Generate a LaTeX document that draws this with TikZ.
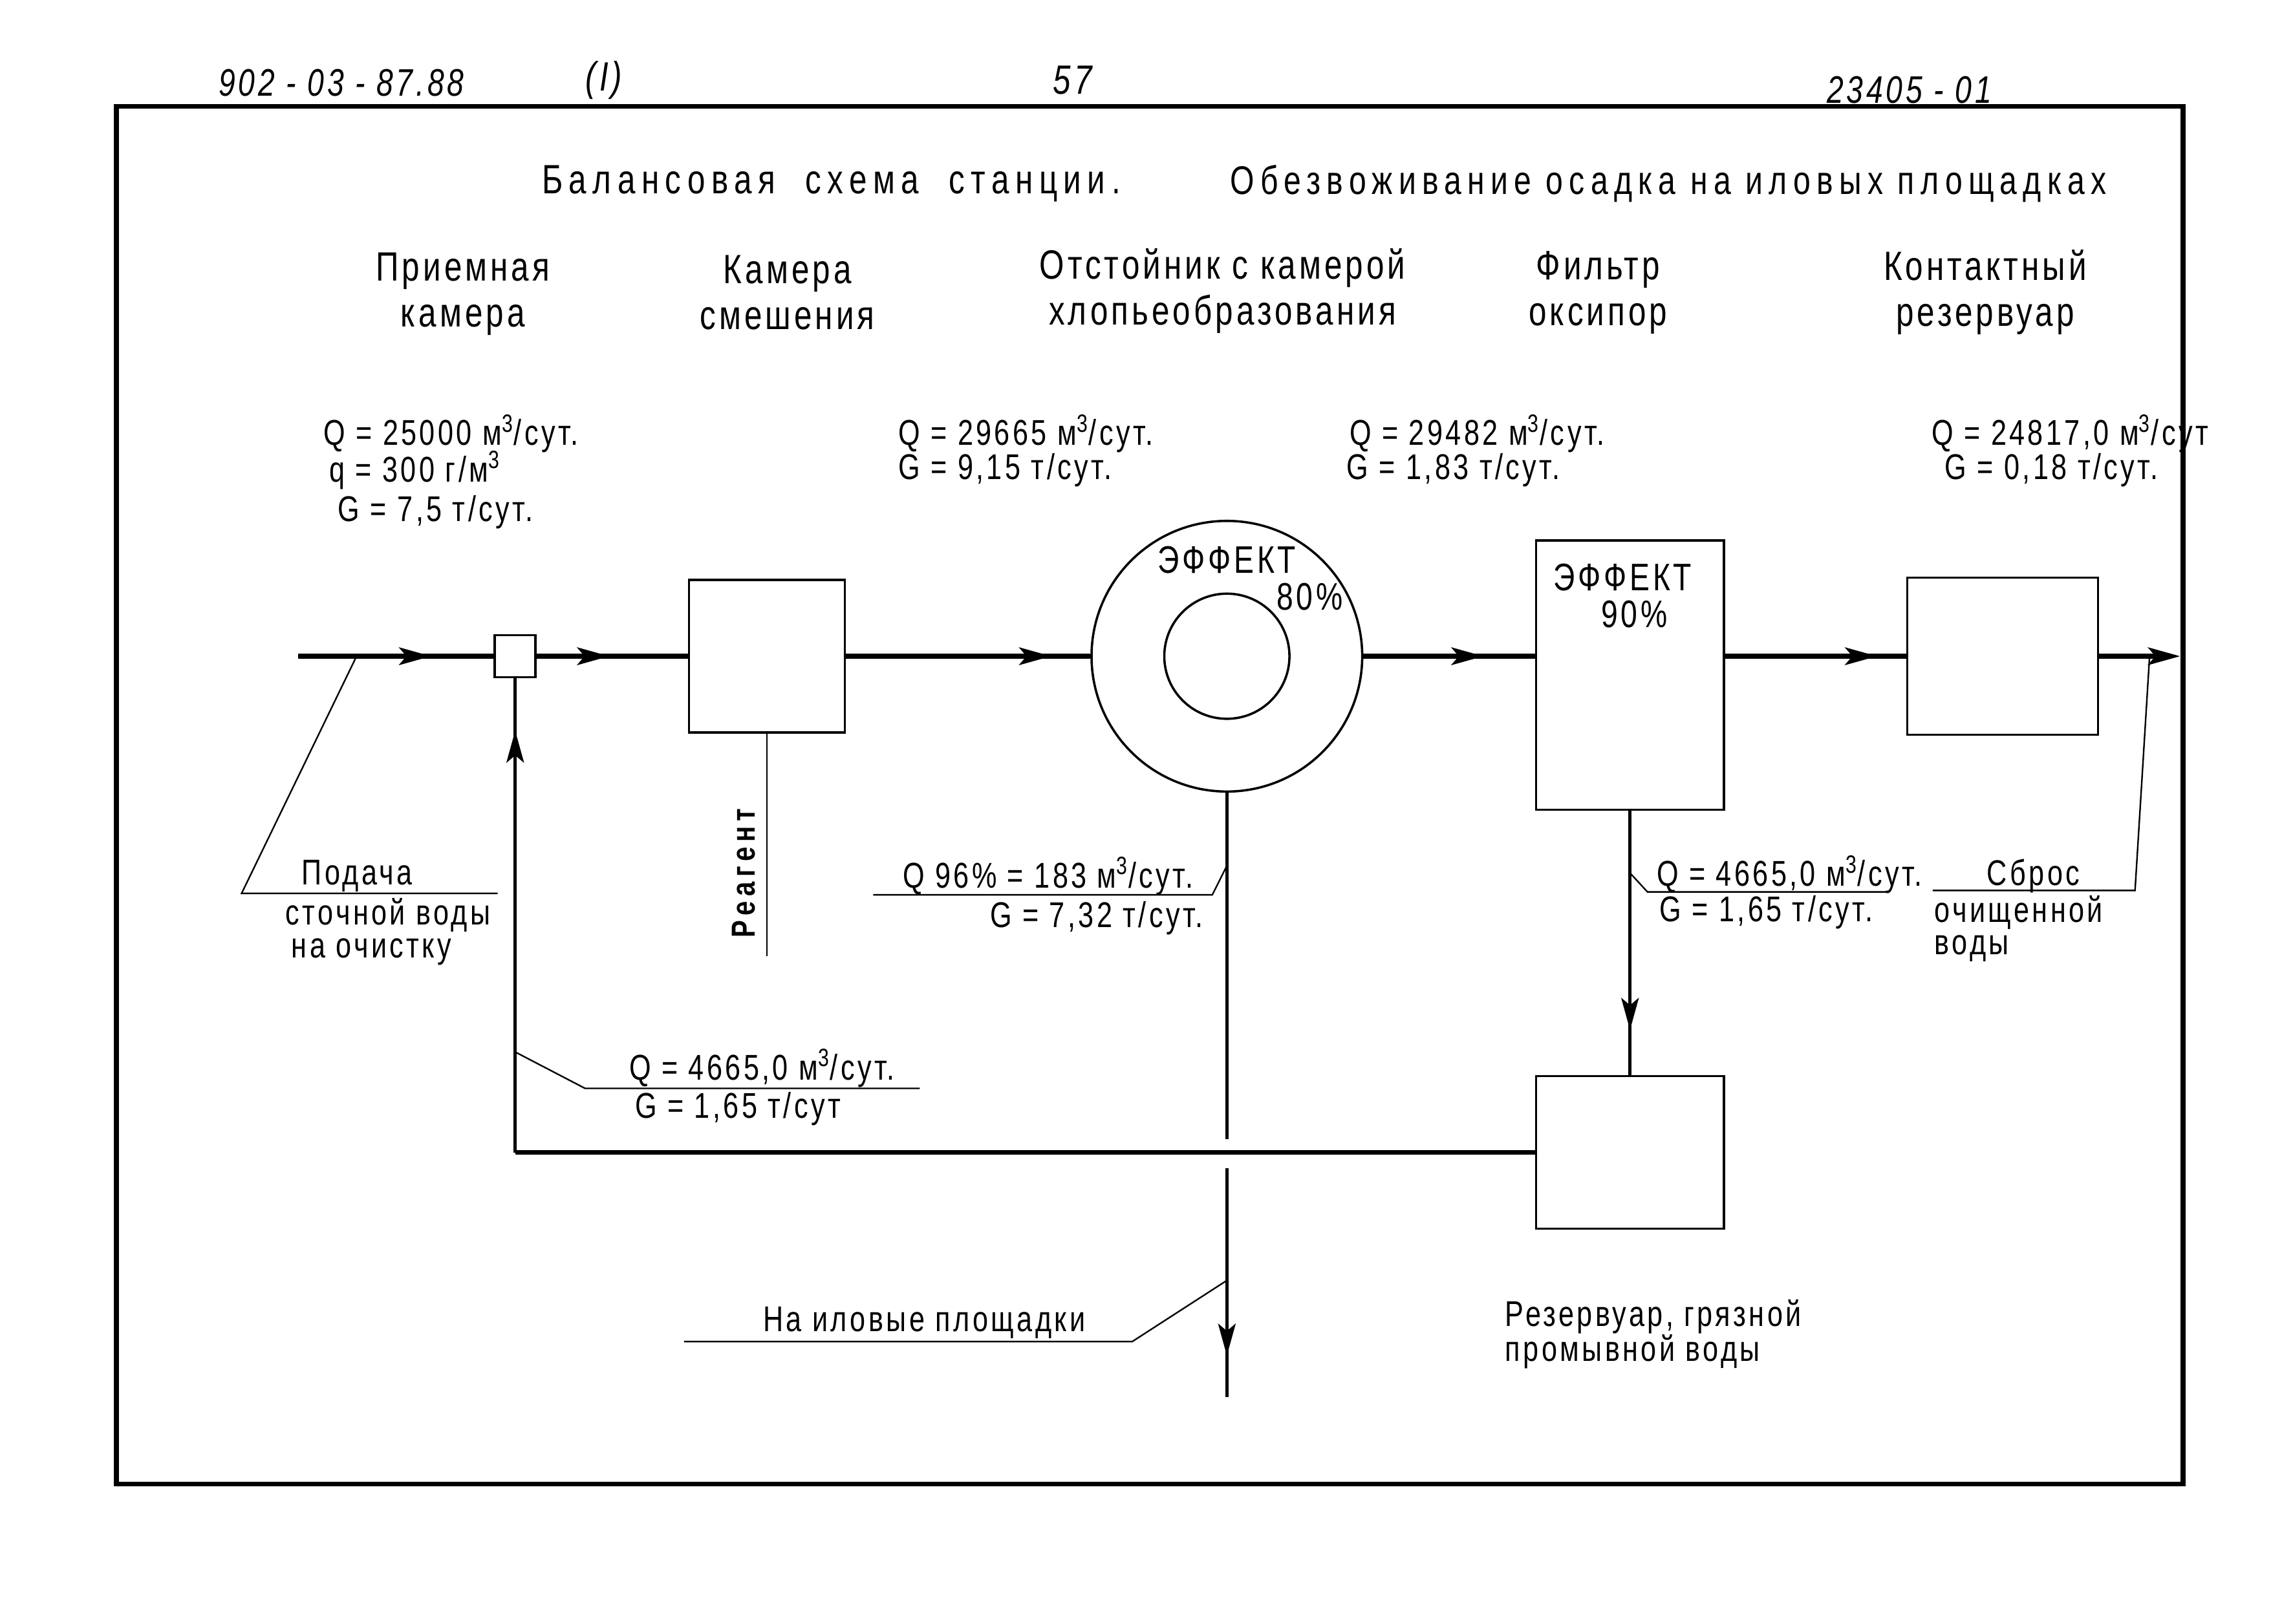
\documentclass[tikz,border=0pt]{standalone}
\usepackage{fontspec}
\setmainfont{Liberation Sans}[FakeStretch=0.78,LetterSpace=8]
\newfontfamily\widefont{Liberation Sans}[FakeStretch=0.78,LetterSpace=15]
\usepackage{tikz}
\usetikzlibrary{arrows.meta,positioning,calc,decorations.markings}

\begin{document}
\begin{tikzpicture}[
  x=0.2mm, y=-0.2mm,
  box/.style={draw, line width=0.9pt, inner sep=0pt},
  ring/.style={circle, draw, line width=0.9pt, inner sep=0pt},
  flow/.style={line width=1.8pt},
  ret/.style={line width=1.3pt},
  lead/.style={line width=0.6pt},
  hdr/.style={font=\fontsize{16}{18}\selectfont, inner sep=0pt},
  dat/.style={font=\fontsize{14}{16}\selectfont, anchor=west, inner sep=0pt},
  midarr/.style={postaction={decorate}, decoration={markings,
    mark=at position #1 with {\arrow{Stealth[length=4.4mm,width=2.4mm,inset=1mm]}}}},
  >={Stealth[length=4.4mm,width=2.4mm,inset=1mm]},
]
\useasboundingbox (0,0) rectangle (1568,1116);
\draw[line width=1.8pt] (80,73) rectangle (1500,1020);

% sheet marks
\node[hdr, font=\itshape\fontsize{15}{18}\selectfont, anchor=west] (code) at (150,57) {902 - 03 - 87.88};
\node[hdr, font=\itshape\fontsize{16}{18}\selectfont] (part) at (415,55) {(I)};
\node[hdr, font=\itshape\fontsize{16}{18}\selectfont] (page) at (737,55) {57};
\node[hdr, font=\itshape\fontsize{15}{18}\selectfont, anchor=west] (inv) at (1255,62) {23405 - 01};

% titles
\node[hdr, font=\widefont\fontsize{16}{18}\selectfont, anchor=west] (title) at (372,126) {Балансовая\ \ схема\ \ станции.};
\node[hdr, font=\widefont\fontsize{15.6}{18}\selectfont, anchor=west] (subtitle) at (845,126) {Обезвоживание осадка на иловых площадках};

\node[hdr, align=center] (h1) at (318,202) {Приемная\\камера};
\node[hdr, align=center] (h2) at (541,201) {Камера\\смешения};
\node[hdr, align=center] (h3) at (840,200) {Отстойник с камерой\\хлопьеобразования};
\node[hdr, align=center] (h4) at (1098,201) {Фильтр\\оксипор};
\node[hdr, align=center] (h5) at (1364,201) {Контактный\\резервуар};

% units
\node[box, minimum width=5.6mm, minimum height=5.8mm] (jn) at (354,451) {};
\node[box, minimum width=21.4mm, minimum height=21mm] (mix) at (527,451) {};
\node[ring, minimum size=37.2mm] (settler) at (843,451) {};
\node[ring, minimum size=17.2mm] (core) at (843,451) {};
\node[box, minimum width=25.8mm, minimum height=37mm] (filter) at (1120,464) {};
\node[box, minimum width=26.2mm, minimum height=21.6mm] (contact) at (1376,451) {};
\node[box, minimum width=25.8mm, minimum height=21mm] (wash) at (1120,792) {};

\node[hdr, font=\fontsize{15}{17}\selectfont] (eff1) at (843,385) {ЭФФЕКТ};
\node[hdr, font=\fontsize{15}{17}\selectfont] (pc1) at (900,410) {80\%};
\node[hdr, font=\fontsize{15}{17}\selectfont] (eff2) at (1115,397) {ЭФФЕКТ};
\node[hdr, font=\fontsize{15}{17}\selectfont] (pc2) at (1123,422) {90\%};

% main line
\coordinate (src) at (205,451);
\coordinate (out) at (1498,451);
\draw[flow, midarr=0.68] (src) -- (jn.west);
\draw[flow, midarr=0.48] (jn.east) -- (mix.west);
\draw[flow, midarr=0.84] (mix.east) -- (settler.west);
\draw[flow, midarr=0.7] (settler.east) -- (filter.west |- settler.east);
\draw[flow, midarr=0.84] (filter.east |- settler.east) -- (contact.west);
\draw[flow, ->] (contact.east) -- (out);

% return of wash water
\draw[flow] (wash.west) -- (wash.west -| jn.south);
\draw[ret, midarr=0.89] (wash.west -| jn.south) -- (jn.south);
\draw[ret, midarr=0.83] (filter.south) -- (wash.north);

% sludge
\coordinate (s1) at (843,783);
\coordinate (s2) at (843,803);
\coordinate (beds) at (843,960);
\draw[ret] (settler.south) -- (s1);
\draw[ret, midarr=0.82] (s2) -- (beds);

% reagent
\coordinate (rg) at (527,657);
\draw[lead] (mix.south) -- (rg);
\node[rotate=90, inner sep=0pt, font=\widefont\bfseries\fontsize{13}{15}\selectfont] (reag) at (511,600) {Реагент};

% flow data
\node[dat] (q1) at (222,298) {Q = 25000 м\textsuperscript{3}/сут.};
\node[dat] (c1) at (226,323) {q = 300 г/м\textsuperscript{3}};
\node[dat] (g1) at (232,352) {G = 7,5 т/сут.};
\node[dat] (q2) at (617,298) {Q = 29665 м\textsuperscript{3}/сут.};
\node[dat] (g2) at (617,323) {G = 9,15 т/сут.};
\node[dat] (q3) at (927,298) {Q = 29482 м\textsuperscript{3}/сут.};
\node[dat] (g3) at (925,323) {G = 1,83 т/сут.};
\node[dat] (q4) at (1327,298) {Q = 24817,0 м\textsuperscript{3}/сут};
\node[dat] (g4) at (1336,323) {G = 0,18 т/сут.};

% leaders and their texts
\coordinate (fdA) at (245,451);
\coordinate (fdB) at (166,614);
\coordinate (fdC) at (342,614);
\draw[lead] (fdA) -- (fdB) -- (fdC);
\node[dat] (feed1) at (207,602) {Подача};
\node[dat] (feed2) at (196,629) {сточной воды};
\node[dat] (feed3) at (200,654) {на очистку};

\coordinate (slA) at (843,595);
\coordinate (slB) at (833,615);
\coordinate (slC) at (600,615);
\draw[lead] (slA) -- (slB) -- (slC);
\node[dat] (q5) at (620,602) {Q 96\% = 183 м\textsuperscript{3}/сут.};
\node[dat] (g5) at (680,631) {G = 7,32 т/сут.};

\coordinate (drA) at (1120,600);
\coordinate (drB) at (1132,613);
\coordinate (drC) at (1297,613);
\draw[lead] (drA) -- (drB) -- (drC);
\node[dat] (q6) at (1138,601) {Q = 4665,0 м\textsuperscript{3}/сут.};
\node[dat] (g6) at (1140,627) {G = 1,65 т/сут.};

\coordinate (dsA) at (1477,451);
\coordinate (dsB) at (1467,612);
\coordinate (dsC) at (1328,612);
\draw[lead] (dsA) -- (dsB) -- (dsC);
\node[dat] (ds1) at (1365,602) {Сброс};
\node[dat] (ds2) at (1329,627) {очищенной};
\node[dat] (ds3) at (1329,652) {воды};

\coordinate (rcA) at (354,723);
\coordinate (rcB) at (402,748);
\coordinate (rcC) at (632,748);
\draw[lead] (rcA) -- (rcB) -- (rcC);
\node[dat] (q7) at (432,734) {Q = 4665,0 м\textsuperscript{3}/сут.};
\node[dat] (g7) at (436,762) {G = 1,65 т/сут};

\coordinate (bdA) at (843,880);
\coordinate (bdB) at (778,922);
\coordinate (bdC) at (470,922);
\draw[lead] (bdA) -- (bdB) -- (bdC);
\node[dat] (beds1) at (524,909) {На иловые площадки};

\node[dat] (wash1) at (1034,905) {Резервуар, грязной};
\node[dat] (wash2) at (1034,929) {промывной воды};
\end{tikzpicture}
\end{document}
